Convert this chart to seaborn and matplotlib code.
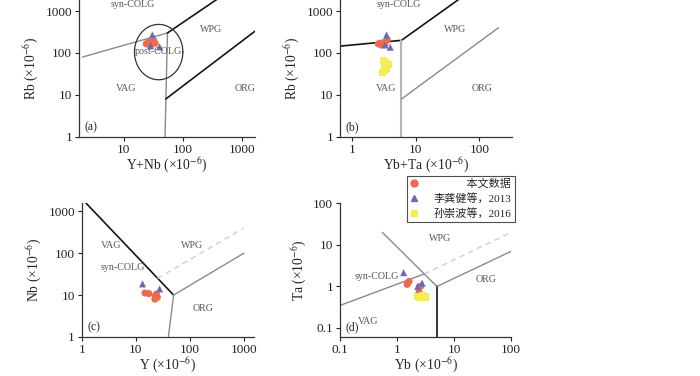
import numpy as np
import pandas as pd
import seaborn as sns
import matplotlib.pyplot as plt
from matplotlib.ticker import FuncFormatter, LogLocator, NullLocator

# ---- sample data ----
sources = ["本文数据", "李龚健等，2013", "孙崇波等，2016"]
colors = ["#ee6a4f", "#6b6bb3", "#f6ec55"]
markers = ["o", "^", "s"]

# (a) Rb vs Y+Nb
a_ynb = [[24, 26, 28, 30, 32, 34, 29], [30.5, 28.5, 40.5], []]
a_rb = [[165, 178, 150, 185, 200, 170, 158], [270, 148, 140], []]

# (b) Rb vs Yb+Ta
b_ybta = [[2.6, 2.8, 3.1, 3.3, 3.6, 2.9], [3.5, 3.3, 4.0],
          [3.1, 3.4, 3.6, 3.3, 3.5, 3.2, 3.0, 3.3, 3.8]]
b_rb = [[165, 170, 176, 160, 204, 155], [268, 155, 137],
        [66, 58, 52, 46, 42, 38, 34, 49, 53]]

# (c) Nb vs Y
c_y = [[14.7, 17.5, 23, 24, 22.5, 25], [13.3, 27.5], []]
c_nb = [[11.2, 10.8, 9.5, 10.5, 8.0, 8.8], [18.5, 14], []]

# (d) Ta vs Yb
d_yb = [[1.5, 1.62, 2.45, 2.6, 2.42, 2.3], [1.3, 2.3, 2.75],
        [2.3, 2.5, 2.7, 2.9, 3.1, 3.2, 2.6, 2.8]]
d_ta = [[1.12, 1.32, 0.98, 1.02, 0.72, 0.58], [2.15, 1.0, 1.2],
        [0.58, 0.55, 0.57, 0.56, 0.55, 0.57, 0.53, 0.60]]

# ---- field boundaries (Pearce et al., 1984) ----
GREY, BLACK, LIGHT, DASH = "grey", "black", "light", "dash"
a_lines = [([2, 55], [80, 300], GREY), ([50, 55], [1, 300], GREY),
           ([55, 400], [300, 2000], BLACK), ([51.5, 2000], [8, 400], BLACK)]
b_lines = [([0.5, 6], [140, 200], BLACK), ([6, 50], [200, 2000], BLACK),
           ([6, 6], [1, 200], LIGHT), ([6, 200], [8, 400], GREY)]
c_lines = [([1, 50], [2000, 10], BLACK), ([40, 50], [1, 10], GREY),
           ([50, 1000], [10, 100], GREY), ([25, 1000], [25, 400], DASH)]
d_lines = [([0.1, 3], [0.35, 2], GREY), ([3, 100], [2, 20], DASH),
           ([0.55, 3, 5], [20, 2, 1], GREY), ([5, 5], [0.05, 1], BLACK),
           ([5, 100], [1, 7], GREY)]

line_styles = {
    GREY: dict(color="#8a8a8a", lw=1.0),
    BLACK: dict(color="#151515", lw=1.2),
    LIGHT: dict(color="#b5b5b5", lw=1.5),
    DASH: dict(color="#cfcfcf", lw=1.0, ls=(0, (4, 3))),
}

sns.set_theme(style="ticks")
plt.rcParams["font.family"] = ["Liberation Serif", "Noto Sans CJK SC"]
plt.rcParams["mathtext.fontset"] = "stix"

fig = plt.figure(figsize=(7.0, 3.76), dpi=100)
ax_a = fig.add_axes([0.113, 0.636, 0.251, 0.364])
ax_b = fig.add_axes([0.486, 0.636, 0.246, 0.364])
ax_c = fig.add_axes([0.117, 0.104, 0.246, 0.355])
ax_d = fig.add_axes([0.486, 0.104, 0.244, 0.355])

palette = dict(zip(sources, colors))
marker_map = dict(zip(sources, markers))


def tidy(xs, ys):
    rows = []
    for src, xv, yv in zip(sources, xs, ys):
        rows += [(src, x, y) for x, y in zip(xv, yv)]
    return pd.DataFrame(rows, columns=["source", "x", "y"])


def panel(ax, xs, ys, lines, xlim, ylim, xlabel, ylabel, tag):
    for lx, ly, kind in lines:
        ax.plot(lx, ly, **line_styles[kind], zorder=1)
    sns.scatterplot(data=tidy(xs, ys), x="x", y="y", hue="source",
                    style="source", hue_order=sources, style_order=sources,
                    palette=palette, markers=marker_map, s=26,
                    edgecolor="none", legend=False, ax=ax, zorder=3)
    ax.set_xscale("log")
    ax.set_yscale("log")
    ax.set_xlim(*xlim)
    ax.set_ylim(*ylim)
    fmt = FuncFormatter(lambda v, p: f"{v:g}")
    for axis in (ax.xaxis, ax.yaxis):
        axis.set_major_locator(LogLocator(base=10, numticks=10))
        axis.set_minor_locator(NullLocator())
        axis.set_major_formatter(fmt)
    ax.tick_params(direction="out", length=3, width=0.8, labelsize=9.5,
                   colors="#222222", pad=2)
    for s in ("left", "bottom"):
        ax.spines[s].set_linewidth(0.9)
        ax.spines[s].set_color("#333333")
    sns.despine(ax=ax)
    ax.set_xlabel(xlabel, fontsize=9.8, labelpad=0)
    ax.set_ylabel(ylabel, fontsize=9.8, labelpad=3)
    ax.text(0.03, 0.05, tag, transform=ax.transAxes, fontsize=8.5,
            color="#222222")
    ax.patch.set_alpha(0)


def field(ax, x, y, s):
    ax.text(x, y, s, ha="center", va="center", fontsize=7.2, color="#555555")


ppm = r" (×10$^{-6}$)"

panel(ax_a, a_ynb, a_rb, a_lines, (1.75, 1660), (1, 1830),
      "Y+Nb" + ppm, "Rb" + ppm, "(a)")
t = np.linspace(0, 2 * np.pi, 200)
ax_a.plot(10 ** (np.log10(39) + 0.41 * np.cos(t)),
          10 ** (np.log10(105) + 0.66 * np.sin(t)),
          color="#333333", lw=0.9, zorder=2)
field(ax_a, 14, 1450, "syn-COLG")
field(ax_a, 300, 365, "WPG")
field(ax_a, 11, 14.4, "VAG")
field(ax_a, 1120, 14.4, "ORG")
field(ax_a, 39, 107, "post-COLG")

panel(ax_b, b_ybta, b_rb, b_lines, (0.656, 330), (1, 1830),
      "Yb+Ta" + ppm, "Rb" + ppm, "(b)")
field(ax_b, 5.4, 1450, "syn-COLG")
field(ax_b, 42, 365, "WPG")
field(ax_b, 3.5, 14.4, "VAG")
field(ax_b, 112, 14.4, "ORG")

panel(ax_c, c_y, c_nb, c_lines, (1, 1550), (1, 1550),
      "Y" + ppm, "Nb" + ppm, "(c)")
field(ax_c, 3.55, 149, "VAG")
field(ax_c, 5.8, 45, "syn-COLG")
field(ax_c, 112, 149, "WPG")
field(ax_c, 176, 4.7, "ORG")

panel(ax_d, d_yb, d_ta, d_lines, (0.1, 100), (0.061, 100),
      "Yb" + ppm, "Ta" + ppm, "(d)")
field(ax_d, 5.8, 14.4, "WPG")
field(ax_d, 0.44, 1.76, "syn-COLG")
field(ax_d, 36, 1.47, "ORG")
field(ax_d, 0.31, 0.145, "VAG")

# legend, labels padded so they line up on the right
pad = ["\u3000\u3000\u3000", "", ""]
handles = [plt.Line2D([], [], ls="none", marker=m, color=c, markersize=5)
           for m, c in zip(markers, colors)]
leg = fig.legend(handles, [p + s for p, s in zip(pad, sources)],
                 loc="upper left", bbox_to_anchor=(0.581, 0.533),
                 frameon=True, fancybox=False, fontsize=8,
                 handlelength=0.8, handletextpad=1.3, borderpad=0.3,
                 labelspacing=0.35, borderaxespad=0)
leg.get_frame().set_edgecolor("#222222")
leg.get_frame().set_linewidth(0.8)

fig.savefig("out.png", dpi=100)
